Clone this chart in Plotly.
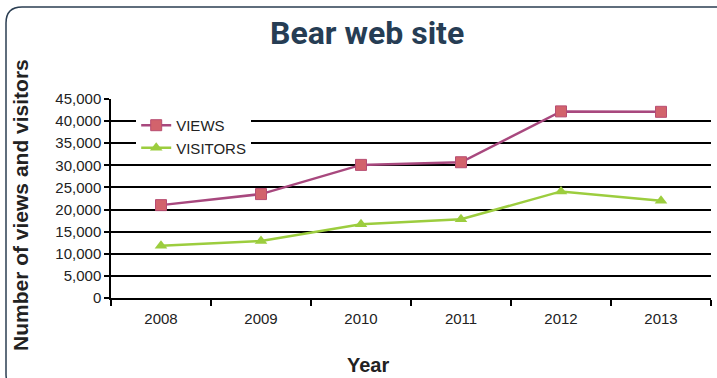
import plotly.graph_objects as go

years = ["2008", "2009", "2010", "2011", "2012", "2013"]
views = [21000, 23500, 30100, 30700, 42200, 42100]
visitors = [11800, 12900, 16700, 17800, 24100, 22000]

W, H = 717, 378
ML, MR, MT, MB = 111, 6, 99, 80
pw, ph = W - ML - MR, H - MT - MB


def px(x):
    return (x - ML) / pw


def py(y):
    return (H - MB - y) / ph


# rounded frame around the whole chart (right and bottom sides run off the page)
l, t, r, b, rad = 6, 7, 740, 390, 16
frame = (f"M {px(l)},{py(t + rad)} Q {px(l)},{py(t)} {px(l + rad)},{py(t)} "
         f"L {px(r)},{py(t)} L {px(r)},{py(b)} L {px(l + rad)},{py(b)} "
         f"Q {px(l)},{py(b)} {px(l)},{py(b - rad)} Z")

fig = go.Figure()
fig.add_trace(go.Scatter(
    x=years, y=views, name="VIEWS", mode="lines+markers",
    line=dict(color="#a8487e", width=2.5),
    marker=dict(symbol="square", size=11, color="#d2636c",
                line=dict(color="#b84d72", width=1)),
))
fig.add_trace(go.Scatter(
    x=years, y=visitors, name="VISITORS", mode="lines+markers",
    line=dict(color="#9ccd3e", width=2.5),
    marker=dict(symbol="triangle-up", size=11, color="#9ccd3e"),
))

tick_font = dict(family="Liberation Sans, Arial", size=15, color="#222")
title_font = dict(family="Liberation Sans, Arial", size=20, color="#222")

fig.update_layout(
    width=W, height=H,
    margin=dict(l=ML, r=MR, t=MT, b=MB),
    paper_bgcolor="white", plot_bgcolor="white",
    title=dict(text="<b>Bear web site</b>", x=0.512, xanchor="center", y=0.912, yanchor="middle",
               font=dict(family="Roboto, Noto Sans", size=32, color="#263d54")),
    showlegend=True,
    legend=dict(x=0.042, y=0.95, xanchor="left", yanchor="top", bgcolor="white",
                font=dict(family="Liberation Sans, Arial", size=15, color="#222"),
                tracegroupgap=2, itemwidth=30, entrywidth=90),
    xaxis=dict(type="category", tickson="boundaries", ticks="outside", ticklen=6,
               tickcolor="black", tickwidth=1.5, showline=True, linecolor="black", linewidth=1.5,
               showgrid=False, tickfont=tick_font, range=[-0.5, 5.5], automargin=False,
               ticklabelstandoff=6),
    yaxis=dict(range=[0, 45000], dtick=5000, tickformat=",", ticks="outside", ticklen=5,
               tickcolor="black", tickwidth=1.5, showline=True, linecolor="black", linewidth=1.5,
               showgrid=True, gridcolor="black", gridwidth=1.5, zeroline=False, tickfont=tick_font,
               automargin=False),
    annotations=[
        dict(text="<b>Number of views and visitors</b>", textangle=-90, showarrow=False,
             xref="paper", yref="paper", x=px(20), y=py(205), xanchor="center", yanchor="middle",
             font=dict(family="Liberation Sans, Arial", size=21, color="#222")),
        dict(text="<b>Year</b>", showarrow=False, xref="paper", yref="paper",
             x=px(368), y=py(365), xanchor="center", yanchor="middle", font=title_font),
    ],
    shapes=[dict(type="path", xref="paper", yref="paper", path=frame,
                 line=dict(color="#2b3e52", width=1.5), layer="above")],
)

fig.write_html("out.html", config={"displayModeBar": False},
               post_script="document.body.style.margin='0';document.body.style.overflow='hidden';")
